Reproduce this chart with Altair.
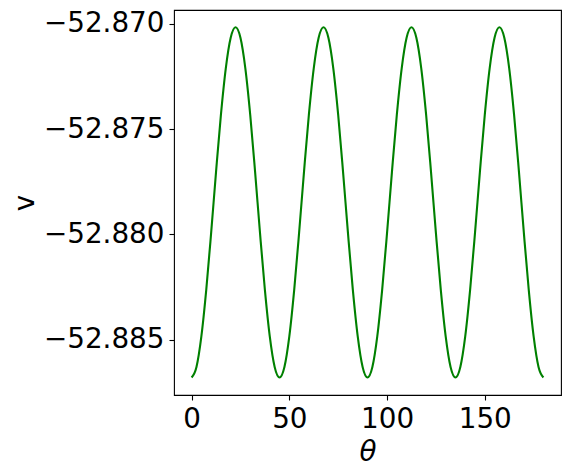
import altair as alt
import pandas as pd

# angle samples (degrees), every 2.5
theta = [i * 2.5 for i in range(73)]

# values, one period (0..45) repeated four times
period_values = [
    -52.88680, -52.88630, -52.88485, -52.88264, -52.87993, -52.87704,
    -52.87432, -52.87211, -52.87066, -52.87016, -52.87066, -52.87211,
    -52.87432, -52.87704, -52.87993, -52.88264, -52.88485, -52.88630,
]
v = (period_values * 4) + [-52.88680]

x_ticks = [0, 50, 100, 150]
y_ticks = [-52.870, -52.875, -52.880, -52.885]

df = pd.DataFrame({"theta": theta, "v": v})

FONT = "DejaVu Sans"
FS = 27.8

chart = alt.Chart(df).mark_line(color="#008000", strokeWidth=2.1, interpolate="monotone").encode(
    x=alt.X(
        "theta:Q",
        scale=alt.Scale(domain=[-9, 189], nice=False, zero=False),
        axis=alt.Axis(
            values=x_ticks, format="d", title="θ", grid=False, domain=False,
            tickColor="black", tickSize=5, tickWidth=1.1, labelPadding=5,
            labelFont=FONT, labelFontSize=FS, labelColor="black",
            titleFont=FONT, titleFontSize=FS, titleFontStyle="italic",
            titleFontWeight="normal", titleColor="black",
            titleY=65, titleBaseline="alphabetic",
        ),
    ),
    y=alt.Y(
        "v:Q",
        scale=alt.Scale(domain=[-52.88763, -52.86934], nice=False, zero=False),
        axis=alt.Axis(
            values=y_ticks, format=".3f", title="v", grid=False, domain=False,
            tickColor="black", tickSize=5, tickWidth=1.1, labelPadding=5,
            labelFont=FONT, labelFontSize=FS, labelColor="black",
            titleFont=FONT, titleFontSize=FS, titleFontWeight="normal",
            titleColor="black", titleX=-141, titleY=192.5,
            titleBaseline="alphabetic", titleAngle=270,
        ),
    ),
).properties(
    width=387,
    height=385,
    autosize=alt.AutoSizeParams(type="none"),
    padding={"left": 166, "top": 2, "right": 2, "bottom": 73},
).configure_view(
    stroke="black", strokeWidth=1.1
)

chart.save("out.html", embed_options={"renderer": "svg", "actions": False})
